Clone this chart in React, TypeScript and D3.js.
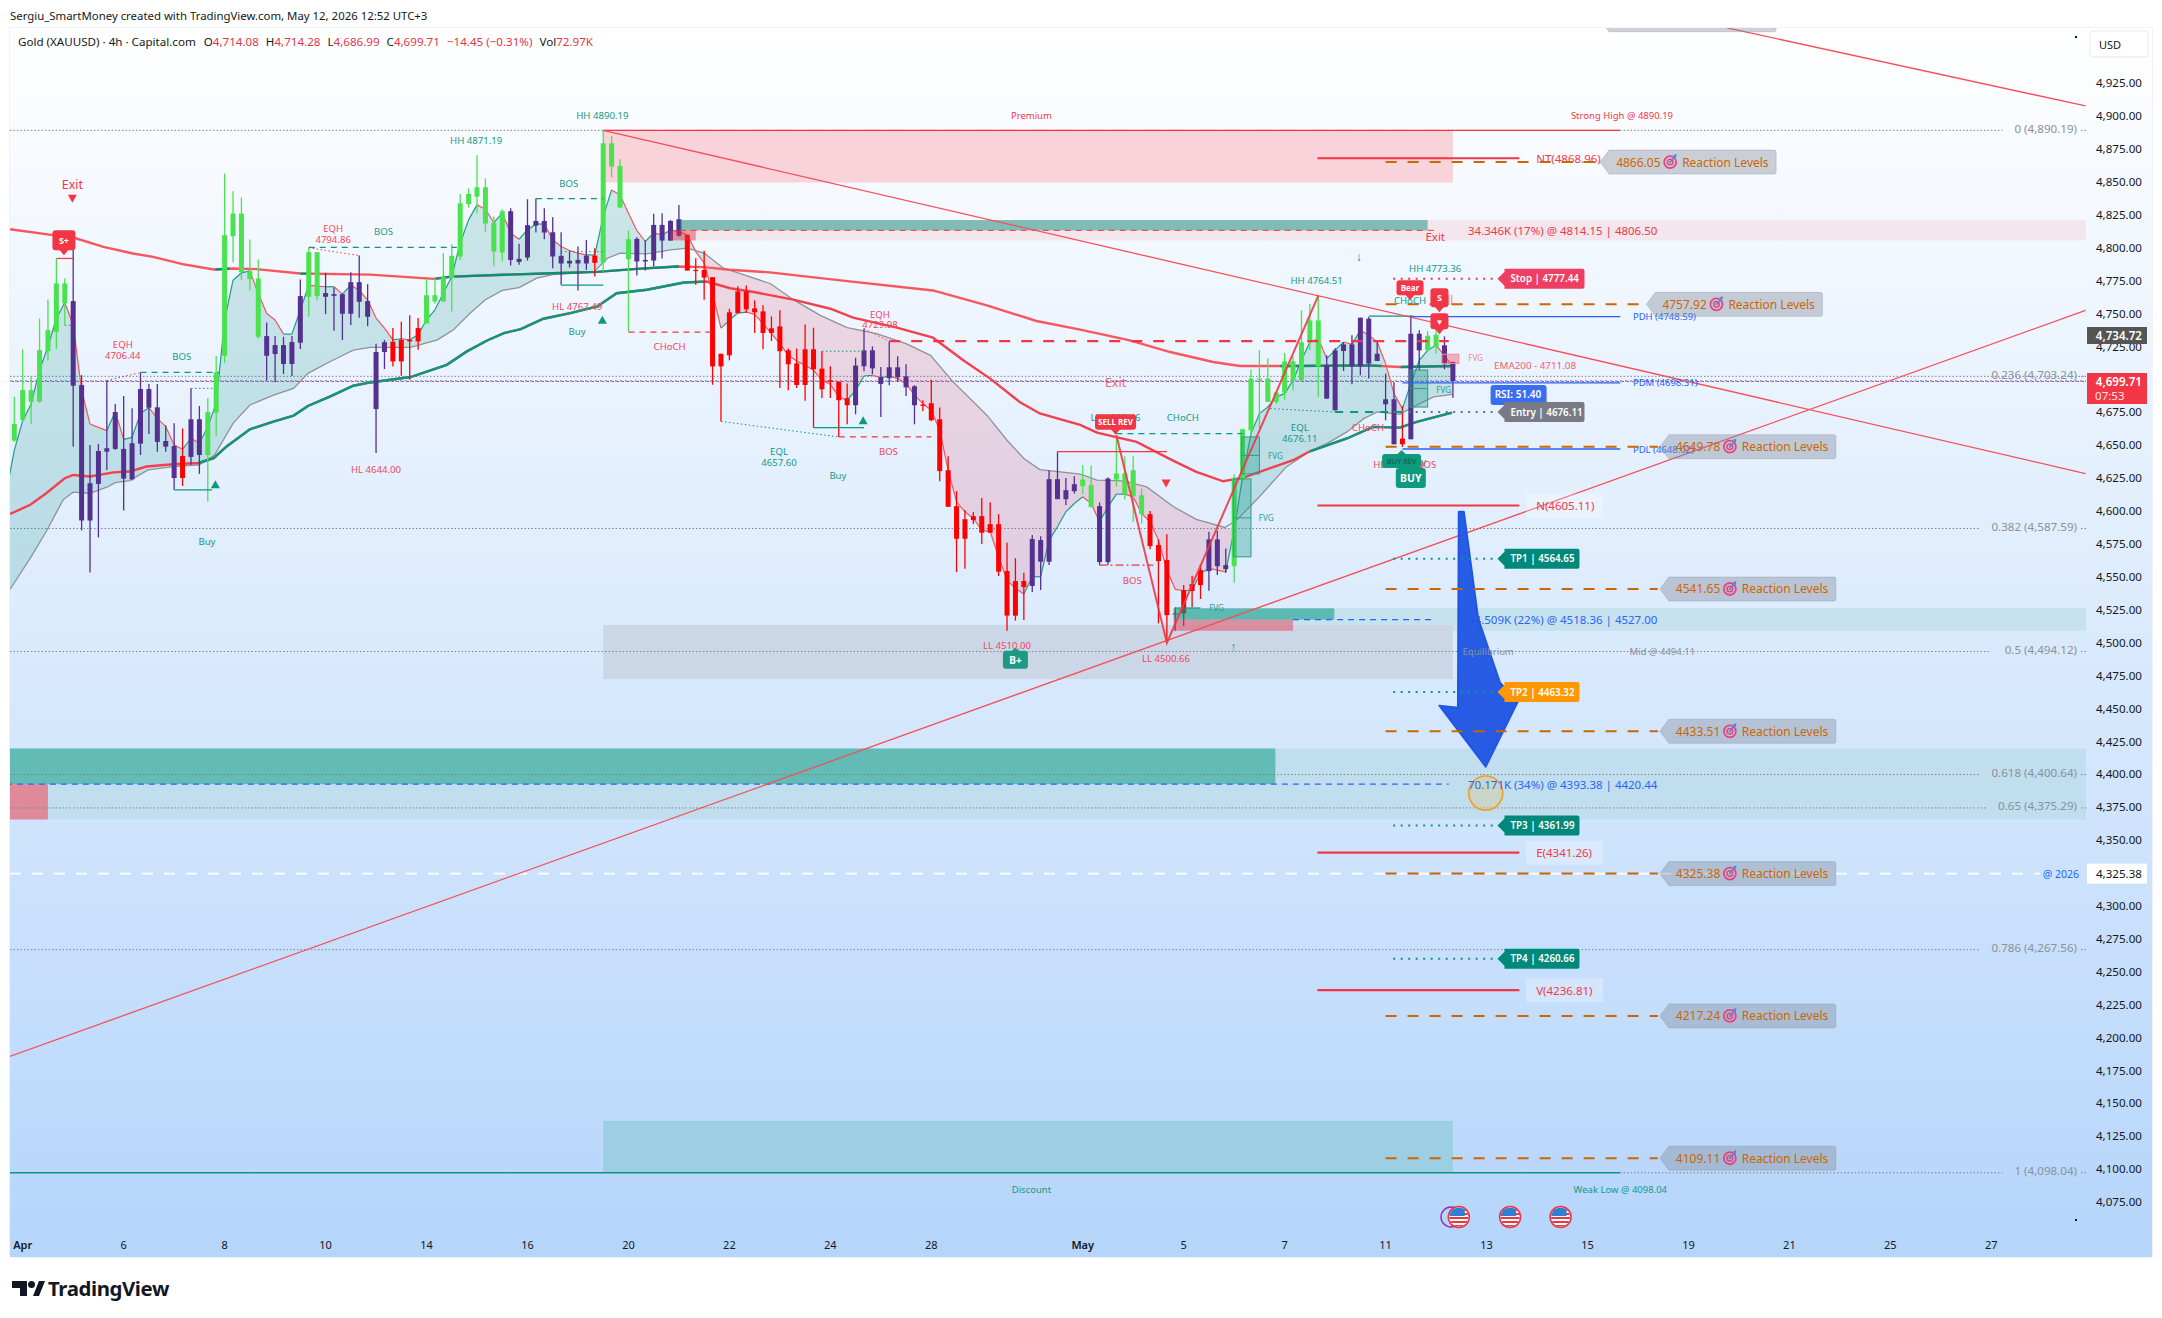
import * as d3 from "d3";

// chart frame, in page pixels
const FONT = "'Noto Sans', sans-serif";
const LEFT = 10;
const RIGHT = 2086;
const OUTER = 2152;
const TOP = 28;
const BOTTOM = 1257;

const RED = "#f23645";
const TEAL = "#089981";
const BLUE = "#2962ff";
const ORANGE = "#cc6600";
const GREY = "#8c9099";

// candles, 4h bars numbered from 1
const highs = [
  4687.8, 4723.7, 4703.5, 4747.2, 4761.7, 4792.8, 4777.6, 4800.4, 4704.2, 4651.1,
  4651.9, 4700, 4682.2, 4688.3, 4679, 4706, 4697.4, 4697.4, 4666, 4667.5,
  4663.7, 4694.1, 4680.7, 4686.5, 4718.6, 4857.3, 4843.9, 4839.1, 4807.2, 4792,
  4744.2, 4733.8, 4733.3, 4733.8, 4776.8, 4800.9, 4797.6, 4781.9, 4770.8, 4766.2,
  4782.4, 4795.1, 4773.3, 4728, 4731, 4739.9, 4744.7, 4749.7, 4747.5, 4777.1,
  4777.8, 4796.8, 4803.6, 4841.8, 4846.1, 4871.4, 4853.7, 4824.6, 4830.2, 4831,
  4803.9, 4837.8, 4838.3, 4831, 4824.1, 4812.7, 4798.8, 4801.9, 4806.9, 4800.6,
  4890.4, 4885.9, 4868.1, 4814, 4808.9, 4806.4, 4826.7, 4827.2, 4822.1, 4833.5,
  4810.7, 4793, 4798.6, 4778.6, 4720.4, 4754.6, 4771.6, 4772.3, 4761, 4757.2,
  4748.8, 4753.4, 4724.3, 4724.3, 4742.7, 4740.2, 4722.3, 4710.9, 4699.2, 4697.7,
  4717.4, 4739.5, 4726, 4710.4, 4729.8, 4718.5, 4712.4, 4696.5, 4685.1, 4700.7,
  4679.5, 4642.6, 4616, 4601.6, 4600.1, 4610.7, 4607.6, 4598.5, 4576.8, 4565.1,
  4554, 4582.6, 4581.8, 4631.9, 4646.1, 4625.9, 4627.4, 4635.7, 4635.4, 4607.4,
  4626.3, 4658.5, 4642.5, 4642.5, 4618, 4601, 4579.3, 4583.3, 4527.7, 4544.6,
  4551.7, 4560.6, 4585.1, 4585.9, 4572.4, 4628.9, 4663.5, 4708.3, 4723, 4716.7,
  4690.9, 4721, 4718.4, 4753.3, 4758.4, 4764.7, 4719.2, 4724.8, 4729.3, 4734.4,
  4747.8, 4748.3, 4729.3, 4705.3, 4698.7, 4680.5, 4749.5, 4738.2, 4737.7, 4747.8, 4733.6, 4714.28,
];
const bodyTops = [
  4667, 4692.8, 4692.8, 4723.2, 4738.4, 4773.8, 4773.8, 4760.4, 4696.6, 4622,
  4646.5, 4648.6, 4676.1, 4648.1, 4652.4, 4693.6, 4693.6, 4679.7, 4654.1, 4650.3,
  4642.7, 4670.6, 4670.6, 4676.1, 4706.2, 4810.5, 4826.9, 4826.9, 4783.2, 4777.6,
  4733.8, 4727, 4727, 4729.3, 4764.2, 4797.6, 4797.6, 4766.5, 4765.7, 4765.7,
  4774.8, 4774.8, 4760.4, 4721.7, 4729.2, 4729.5, 4731, 4731, 4739.9, 4764.9,
  4764.9, 4778.6, 4794.8, 4834.7, 4841.8, 4846.9, 4846.9, 4820.1, 4828.7, 4828.7,
  4792.5, 4818.1, 4821.3, 4821.3, 4812.7, 4794.8, 4791, 4791.7, 4795, 4795,
  4880.3, 4880.3, 4863.1, 4807.4, 4807.7, 4791.7, 4818.3, 4818.3, 4821.3, 4822.6,
  4810.7, 4784.1, 4784.1, 4778.6, 4720.4, 4751.9, 4767.8, 4767.8, 4754.9, 4752.6,
  4739.7, 4741.2, 4723, 4713.1, 4723.8, 4723.8, 4709.1, 4700.2, 4699.2, 4686.6,
  4711.4, 4723, 4723, 4702.5, 4710.1, 4710.1, 4703.3, 4695.7, 4681.8, 4682.8,
  4670.6, 4631.9, 4604.6, 4594.7, 4597, 4597, 4590.9, 4590.9, 4555.3, 4547.7,
  4547.7, 4579.6, 4578.8, 4625.1, 4625.1, 4616.7, 4621.3, 4624.8, 4620.5, 4604.6,
  4625.6, 4629.4, 4629.4, 4631.9, 4612.9, 4598.5, 4575, 4563.6, 4523.1, 4540.8,
  4545.4, 4556, 4579.3, 4579.3, 4559.8, 4625.6, 4663, 4701.5, 4701.5, 4701.5,
  4690.9, 4714.6, 4714.6, 4729.1, 4745.7, 4745.7, 4711.6, 4723, 4727.5, 4727.5,
  4747.8, 4747, 4720.4, 4685.8, 4685.8, 4655.9, 4735.6, 4735.6, 4734.1, 4734.9, 4726.8, 4714.08,
];
const bodyBottoms = [
  4654.4, 4670.1, 4684, 4684, 4722.4, 4737.1, 4758.6, 4696.1, 4593.7, 4593.7,
  4621.5, 4646, 4648.1, 4625.5, 4625, 4652.1, 4679.4, 4653.4, 4649.8, 4626,
  4626, 4642, 4643.5, 4643.5, 4675.6, 4718.9, 4809.7, 4782.4, 4777.1, 4733.3,
  4718.9, 4720.2, 4712.6, 4712.6, 4728.8, 4763.7, 4764.2, 4763.7, 4764.4, 4750.8,
  4750.8, 4759.9, 4748.5, 4678.4, 4721.7, 4714.6, 4714.6, 4729.8, 4729.8, 4743.4,
  4760.1, 4760.1, 4777.8, 4794.3, 4834.2, 4839.8, 4819.3, 4798.1, 4797.3, 4791.7,
  4790.2, 4793.5, 4817.8, 4812.5, 4794.3, 4789, 4789, 4789, 4789, 4789.5,
  4789.7, 4862.6, 4831.5, 4792.2, 4790.5, 4790.5, 4791.2, 4806.4, 4806.4, 4810,
  4783.6, 4783.4, 4778.3, 4710.8, 4710.8, 4719.2, 4751.3, 4754.1, 4751.9, 4736.2,
  4736.2, 4722.3, 4712.4, 4696.7, 4696.7, 4708.6, 4693.4, 4699.2, 4685.1, 4681.3,
  4681.3, 4710.9, 4709.3, 4697.5, 4701.8, 4702.5, 4694.9, 4681.3, 4680.8, 4669.9,
  4631.2, 4604.1, 4579.8, 4579.8, 4594, 4584.4, 4584.4, 4554.8, 4521.4, 4521.4,
  4543.1, 4543.9, 4562.4, 4562.4, 4609.9, 4609.9, 4616, 4619.8, 4603.8, 4562.1,
  4562.1, 4624.8, 4613.7, 4612.2, 4598.5, 4574.2, 4562.8, 4521.8, 4522.6, 4523.1,
  4540.1, 4544.6, 4555.2, 4559, 4556.8, 4559, 4625.1, 4662.3, 4700.7, 4683.8,
  4683.8, 4690.8, 4700.2, 4700.2, 4729.3, 4710.8, 4686.3, 4677.4, 4722.5, 4710.8,
  4710.8, 4712.9, 4714.9, 4682, 4651.6, 4651.6, 4655.4, 4723, 4723, 4725.5, 4712.9, 4699.71,
];
const lows = [
  4653.6, 4670, 4667, 4683.2, 4715.1, 4724, 4742.2, 4649.8, 4586.1, 4554.2,
  4580.8, 4632.1, 4647.3, 4601.3, 4624, 4643.5, 4659.4, 4646, 4646, 4617,
  4620, 4636, 4629.1, 4608.1, 4657.9, 4713.6, 4790, 4776.3, 4768.2, 4731.8,
  4700, 4698.7, 4705, 4703.5, 4724, 4748.5, 4761.1, 4750.5, 4737.9, 4730.8,
  4742.2, 4747.7, 4741.4, 4645, 4708.8, 4710.8, 4703.7, 4700.7, 4723.4, 4743.4,
  4758.3, 4760.1, 4752.5, 4791.7, 4831.5, 4827.2, 4813.2, 4786.7, 4790.5, 4787.4,
  4788, 4791.2, 4812.5, 4807.4, 4785.4, 4772.8, 4785.9, 4768.5, 4784.1, 4779.1,
  4782.9, 4854.5, 4831, 4737.3, 4779.8, 4783.6, 4786.7, 4792.8, 4806.4, 4809.4,
  4783.6, 4772.8, 4761.4, 4696.9, 4669, 4715.4, 4751.3, 4751.3, 4736.2, 4723.8,
  4730.1, 4694.4, 4692.6, 4694.4, 4684.6, 4664.3, 4686.8, 4686.8, 4657.2, 4666.8,
  4674.4, 4707.1, 4704.8, 4672.4, 4696.5, 4699, 4688.3, 4666.8, 4676.7, 4669.1,
  4623.6, 4604.1, 4554.5, 4557, 4590.9, 4575.8, 4584.4, 4551.5, 4510, 4517.6,
  4518.1, 4539.3, 4540.8, 4559.8, 4609.9, 4605.4, 4614.2, 4613.7, 4603.8, 4559.8,
  4559.8, 4619.2, 4609.6, 4592.7, 4591.4, 4571.9, 4515.5, 4500.8, 4510, 4513.5,
  4527.7, 4534, 4540.3, 4552.2, 4554, 4546.4, 4625.1, 4657.2, 4663.5, 4683.8,
  4682.5, 4685.5, 4692.6, 4700.2, 4723, 4687.6, 4686.3, 4677.4, 4707.3, 4697.2,
  4704, 4701.5, 4714.9, 4669.8, 4651.6, 4649.6, 4655.4, 4707.8, 4723, 4720.4, 4708.6, 4686.99,
];
const candleKinds =
  "gggggggppp" + "pppppppppp" + "rppggggggg" + "pppppggppp" + "ppppprrrrg" + "gggggggggp" +
  "pppppppppr" + "ggggpppppp" + "rrrrrrrrrr" + "rrrrrrrrrr" + "pppppppprr" + "rrrrrrrrrr" +
  "rppppppggp" + "pggggrrrrr" + "rrpppggggg" + "ggggggpppp" + "ppppprppgg" + "pp";
const kindColors: Record<string, string> = { g: "#4be24f", p: "#54308f", r: "#ff0000" };

// thin band line, one value per bar from bar 0
const fastBand = [
  4614, 4647, 4669.6, 4682.2, 4708, 4725.7, 4747.2, 4759.4, 4742.2, 4692.8, 4667,
  4664.5, 4662, 4676.4, 4655.4, 4656.9, 4675.1, 4679.4, 4671.3, 4665, 4651.1,
  4647.8, 4656.2, 4652.4, 4665, 4682.7, 4746, 4776.3, 4781.9, 4783.4, 4766.2,
  4751, 4746, 4735.3, 4735.3, 4753.6, 4772.5, 4771.8, 4771.3, 4771.3, 4765.7,
  4772.5, 4768.7, 4761.2, 4747.5, 4739.9, 4731, 4731.8, 4731, 4734.8, 4746.2,
  4753.8, 4766.4, 4779.1, 4804.4, 4822.1, 4833.5, 4830.2, 4820.1, 4827.2, 4812,
  4807.4, 4814.5, 4819, 4819, 4806.9, 4801.9, 4798.8, 4796.8, 4795.5, 4795.5,
  4824.6, 4844.9, 4841.1, 4827.2, 4814, 4805.7, 4812, 4810.7, 4814.5, 4813.2,
  4810.7, 4798, 4789.2, 4766.4, 4739.9, 4745.8, 4751.3, 4752.1, 4750.3, 4743.3,
  4735.7, 4728.1, 4719.2, 4714.9, 4711.6, 4707.8, 4700.2, 4697.2, 4687.6, 4685.1,
  4692.6, 4703.5, 4704, 4702.3, 4703.3, 4701.5, 4697.7, 4688.9, 4682.5, 4677.5,
  4662.3, 4631.9, 4607.9, 4600.3, 4595.2, 4586.4, 4585.1, 4566.2, 4548.4, 4542.1,
  4537.8, 4551, 4551, 4578.8, 4588.9, 4600.3, 4606.6, 4611.7, 4606.6, 4592.7,
  4604, 4613.7, 4613.7, 4611.7, 4599, 4592.7, 4578.8, 4556, 4541.3, 4540.3,
  4540.8, 4553.5, 4557.3, 4556, 4554.7, 4586.4, 4626.8, 4659.7, 4674.9, 4680,
  4687.6, 4690.1, 4700.2, 4715.4, 4729.3, 4731.8, 4716.7, 4723, 4729.3, 4727.5,
  4738.2, 4734.4, 4729.3, 4712.9, 4690.1, 4678.7, 4697.7, 4715.4, 4723, 4726.8,
  4719.2, 4710.3,
];

// grey band line, [bar, price]
const slowBand: [number, number][] = [
  [0.5, 4541.5], [2.9, 4565.1], [4.8, 4585.3], [6.8, 4609.4], [8, 4615.2], [10, 4614.4], [12, 4619], [13, 4622.5],
  [14.7, 4624], [16.9, 4632.1], [19.9, 4634.7], [23, 4635.9], [24.8, 4643.5], [27, 4667.5], [29, 4681.5], [31.8, 4689],
  [34.2, 4694.1], [35.9, 4705.5], [38.5, 4714.3], [41.3, 4723.2], [43.3, 4725.2], [48.1, 4725.2], [51.3, 4731],
  [53.2, 4738.6], [55.2, 4751.3], [57, 4761.4], [59, 4768.5], [61, 4770.7], [63.1, 4777.8], [65, 4780.6], [69.9, 4782.6],
  [71.5, 4793], [73, 4796.8], [76.2, 4796.3], [79, 4799.3], [81, 4800.6], [83, 4796.8], [85.3, 4785.4], [87.3, 4781.2],
  [90.9, 4773.6], [93.6, 4761.5], [96.8, 4749.6], [100, 4740.2], [103.5, 4735.7], [107, 4728.1], [109.9, 4719.2],
  [112.6, 4699], [116.6, 4673.7], [119, 4654.7], [121, 4640.8], [122.9, 4632.4], [127.7, 4629], [129.7, 4624.3],
  [132.8, 4623.8], [135.6, 4619.2], [138.8, 4604.1], [141.5, 4594.5], [144.9, 4588.4], [146.3, 4594], [149, 4611.7],
  [152.2, 4634.4], [155, 4646.3], [157, 4652.1], [159.4, 4661], [161.4, 4671.1], [163, 4676.2], [165.7, 4674.4],
  [167.3, 4680], [169.7, 4687.6], [171.9, 4689.6],
];

const ema200: [number, number][] = [
  [0.5, 4815], [5.6, 4810.5], [8, 4808.7], [11.6, 4801.6], [15.1, 4796.6], [17.5, 4794], [21, 4788.5], [24.7, 4784.4],
  [27, 4785.2], [29.8, 4784.7], [35, 4781.4], [43.3, 4780.5], [50.9, 4777.3], [53, 4779], [59.2, 4780.4], [65, 4781.6],
  [70.3, 4782.6], [75, 4784.9], [79.8, 4786.7], [83, 4786.2], [86, 4784.2], [90.8, 4782.2], [100, 4775.6], [110.2, 4768.5],
  [116.6, 4757.2], [122.5, 4745.3], [127.7, 4738.7], [133.6, 4730.6], [138.4, 4721.7], [143.5, 4714.1], [146.7, 4711.1],
  [153, 4711.1], [162, 4711.6], [165.7, 4710.3], [172, 4711.1],
];
const ema200TealSpans = [[24.9, 26.6], [35, 35.8], [51, 80], [151.5, 163.5], [165.8, 172]];

const emaSlow: [number, number][] = [
  [0.5, 4598.7], [2.9, 4605.6], [4.8, 4614.4], [7, 4625.8], [8, 4628.3], [10, 4627.1], [12.8, 4630.3], [14.7, 4630.9],
  [16.7, 4634.7], [19.9, 4636.4], [22.9, 4637.4], [24.7, 4641], [26.2, 4649.8], [29, 4663], [31.8, 4668.8], [34.2, 4673.4],
  [35.9, 4680.7], [38.5, 4687.8], [41.3, 4696.1], [43.3, 4698.6], [48.1, 4702.7], [52.4, 4712], [54.8, 4722.2], [57.2, 4730.5],
  [59.2, 4736.1], [61.2, 4739.1], [63.9, 4747], [67.1, 4751.3], [70.3, 4756.3], [72.6, 4766.4], [76.2, 4769], [80.6, 4774.5],
  [83.3, 4775.3], [86.1, 4770.2], [88.9, 4767.3], [93.6, 4761.5], [98, 4754.6], [100.7, 4747.8], [105.9, 4740.2], [110.2, 4732.6],
  [113.8, 4715.4], [117, 4701.5], [120.5, 4683.8], [122.9, 4675], [127.7, 4666.4], [129.7, 4660.5], [134.4, 4653.4],
  [138.8, 4639], [141.5, 4630.6], [144.7, 4623.5], [147.1, 4626.3], [153, 4639.5], [155, 4646.3], [159.4, 4656], [162.5, 4664.8],
  [165.7, 4664.3], [167.7, 4668.6], [171.9, 4675.7],
];
const emaSlowTealSpans = [[22.9, 83], [155, 172]];

const priceTicks = d3.range(4075, 4926, 25);
const timeLabels = ["Apr", "6", "8", "10", "14", "16", "20", "22", "24", "28", "May", "5", "7", "11", "13", "15", "19", "21", "25", "27"];
const timeBars = [2, 14, 26, 38, 50, 62, 74, 86, 98, 110, 128, 140, 152, 164, 176, 188, 200, 212, 224, 236];

const fibRatios = ["0", "0.236", "0.382", "0.5", "0.618", "0.65", "0.786", "1"];
const fibPrices = [4890.19, 4703.24, 4587.59, 4494.12, 4400.64, 4375.29, 4267.56, 4098.04];

const reactionLevels = [4974.18, 4866.05, 4757.92, 4649.78, 4541.65, 4433.51, 4325.38, 4217.24, 4109.11];
const reactionTipBars = [189.5, 189.5, 195, 196.6, 196.6, 196.6, 196.6, 196.6, 196.6];

const harmonicNames = ["NT", "N", "E", "V"];
const harmonicPrices = [4868.96, 4605.11, 4341.26, 4236.81];

const targetNames = ["Stop ", "Entry", "TP1", "TP2", "TP3", "TP4"];
const targetPrices = [4777.44, 4676.11, 4564.65, 4463.32, 4361.99, 4260.66];
const targetColors = ["#ee3f62", "#787b86", "#00897b", "#ff9800", "#00897b", "#00897b"];

const dayLevelNames = ["PDH", "PDM", "PDL"];
const dayLevelPrices = [4748.59, 4698.31, 4648.02];

const tealLabels: [string, number, number][] = [
  ["BOS", 20.9, 4717], ["Buy", 23.9, 4576.4], ["BOS", 44.9, 4811.8], ["HH 4871.19", 55.9, 4881.5], ["HH 4890.19", 70.9, 4900.6],
  ["BOS", 66.9, 4848.2], ["Buy", 67.9, 4736.4], ["EQL", 91.9, 4644.9], ["4657.60", 91.9, 4636.3], ["Buy", 98.9, 4626.4],
  ["CHoCH", 139.9, 4670.4], ["LH 4658.46", 131.9, 4670.4], ["EQL", 153.8, 4663.4], ["4676.11", 153.8, 4655], ["HH 4764.51", 155.8, 4774.5],
  ["HH 4773.36", 169.9, 4783.6], ["CHoCH", 166.9, 4759.3], ["Buy", 167.8, 4637],
];
const redLabels: [string, number, number][] = [
  ["EQH", 13.9, 4725.9], ["4706.44", 13.9, 4717.6], ["EQH", 38.9, 4814.1], ["4794.86", 38.9, 4805.7], ["HL 4644.00", 44, 4631.3],
  ["HL 4767.49", 67.9, 4755], ["CHoCH", 78.9, 4724.6], ["EQH", 103.9, 4749.3], ["4729.98", 103.9, 4741.1], ["BOS", 104.9, 4644.9],
  ["BOS", 133.9, 4547.1], ["LL 4510.00", 119, 4497.6], ["LL 4500.66", 137.9, 4487.7], ["CHoCH", 161.9, 4663.4], ["BOS", 168.9, 4635.1],
  ["HL 4652.10", 165.5, 4635.1],
];
const fvgLabelBars = [150.9, 149.8, 143.9, 170.9];
const fvgLabelPrices = [4641.6, 4594.4, 4526.4, 4692.3];

// [bar from, bar to, top price, bottom price]
const fvgBoxes = [
  [146.9, 149, 4657.2, 4629.1],
  [145.9, 148, 4625.3, 4566.1],
  [166.9, 169, 4708, 4679.9],
];

// swing line through LH, LL and HH
const swingLine: [number, number][] = [[132, 4658.5], [138, 4500.66], [156, 4764.51]];
const trendLines: [number, number][][] = [
  [[71, 4890.19], [247.2, 4629.4]],
  [[0.3, 4186.1], [247.2, 4753.4]],
  [[204.6, 4968], [247.2, 4908.7]],
];
const bigArrow: [number, number][] = [
  [172.7, 4600.3], [173.3, 4600.3], [175, 4519.1], [177.6, 4470.4], [179.7, 4456], [175.9, 4406.7], [170.4, 4453], [172.6, 4451.5],
];

// thin structure lines: bar from, bar to, price, style
const structure: [number, number, number, string, string, number][] = [
  [16, 25.4, 4706.2, TEAL, "6 5", 1.2],
  [22, 24.7, 4694.1, TEAL, "1.5 2.5", 1],
  [6, 8, 4792.8, RED, "", 1.2],
  [7, 8, 4742, RED, "1.5 2.5", 1],
  [20, 24.5, 4617, TEAL, "", 1.2],
  [36, 53.6, 4801.2, TEAL, "6 5", 1.2],
  [63, 71, 4838.3, TEAL, "6 5", 1.2],
  [66, 71, 4798, TEAL, "1.5 2.5", 1],
  [66, 71, 4772.5, TEAL, "", 1.2],
  [74, 84, 4736.8, RED, "6 5", 1.2],
  [97, 102, 4722.3, TEAL, "1.5 2.5", 1],
  [96, 102, 4664.3, TEAL, "", 1.2],
  [99, 110, 4657.2, RED, "6 5", 1.2],
  [125, 138, 4646, RED, "", 1.2],
  [132, 147, 4659.7, TEAL, "6 5", 1.2],
  [130, 136.4, 4559.8, RED, "8 3 2 3", 1.2],
  [139, 142, 4527.2, TEAL, "", 1.2],
  [158, 167, 4676.2, TEAL, "8 7", 2],
  [162, 167.3, 4749, TEAL, "", 1.2],
  [105, 171.5, 4730, RED, "11 11", 2.4],
];
// sloping dotted notes: bar, price, bar, price, colour
const slanted: [number, number, number, number, string][] = [
  [12, 4700, 16, 4706.2, RED],
  [36, 4800.9, 42, 4795, RED],
  [85, 4669, 99, 4657.2, TEAL],
  [102, 4739.5, 105, 4729.8, RED],
  [150.3, 4678.7, 158, 4676.2, TEAL],
];
const buyMarkerBars = [24.9, 70.9, 101.9];
const buyMarkerPrices = [4620, 4745, 4668.6];
const sellMarkerBars = [7.9, 137.9];
const sellMarkerPrices = [4837, 4620.5];
const newsBars = [172.7, 178.8, 184.8];

const x = d3.scaleLinear().domain([1, 172]).range([14.3, 1452.9]);
const y = d3.scaleLinear().domain([4890.19, 4098.04]).range([130.3, 1172.8]);
// notes sit a little above their level
const noteY = (p: number) => y(p) - 1.6;
const lineXY = d3
  .line<[number, number]>()
  .x((d) => x(d[0]))
  .y((d) => y(d[1]));
const fmt = d3.format(",.2f");
const candleWidth = 5;

const bandPoints = fastBand.map((p, i) => [i, p] as [number, number]);

function cloud(from: number, to: number) {
  const upper = bandPoints.filter((d) => d[0] >= from && d[0] <= to);
  const lower = slowBand.filter((d) => d[0] >= from && d[0] <= to).reverse();
  return lineXY([...upper, ...lower]) + "Z";
}

function Label(p: any) {
  const { text, px, py, color = "#131722", size = 10, anchor = "middle", weight = 400, opacity } = p;
  return (
    <text x={px} y={py} fill={color} fontSize={size} textAnchor={anchor} fontWeight={weight} opacity={opacity} dominantBaseline="central">
      {text}
    </text>
  );
}

function Level(p: any) {
  const { from, to, price, color, dash = "", width = 1 } = p;
  return <line x1={x(from)} x2={x(to)} y1={y(price)} y2={y(price)} stroke={color} strokeDasharray={dash} strokeWidth={width} />;
}

function Zone(p: any) {
  const { from, to, top, bottom, fill, stroke, opacity = 1 } = p;
  return <rect x={x(from)} width={x(to) - x(from)} y={y(top)} height={y(bottom) - y(top)} fill={fill} fillOpacity={opacity} stroke={stroke} />;
}

// rounded note with a small pointer, tip at px/py
function Badge(p: any) {
  const { px, py, w, h, text, fill, color = "#fff", size = 9, up = false, weight = 700, tip = 5 } = p;
  const top = up ? py + tip : py - tip - h;
  const pointer = up
    ? `M${px - 5},${py + tip + 1}L${px},${py}L${px + 5},${py + tip + 1}Z`
    : `M${px - 5},${py - tip - 1}L${px},${py}L${px + 5},${py - tip - 1}Z`;
  return (
    <g>
      <rect x={px - w / 2} y={top} width={w} height={h} rx={3} fill={fill} />
      {tip > 0 && <path d={pointer} fill={fill} />}
      <Label text={text} px={px} py={top + h / 2} color={color} size={size} weight={weight} />
    </g>
  );
}

function Target() {
  return (
    <g>
      <circle r={6} fill="none" stroke="#e8437f" strokeWidth={1.8} />
      <circle r={2.8} fill="none" stroke="#e8437f" strokeWidth={1.5} />
      <circle r={1} fill="#e8437f" />
      <path d="M0,0L5,-6" stroke="#3f8fe0" strokeWidth={1.5} />
      <path d="M3,-7L6.5,-8L6,-4Z" fill="#3f8fe0" />
    </g>
  );
}

function ReactionTag({ price, tipBar }: { price: number; tipBar: number }) {
  const cy = y(price);
  const tip = x(tipBar);
  const left = tip + 9;
  const right = left + 167;
  return (
    <g>
      <line x1={x(164)} x2={tip - 2} y1={cy} y2={cy} stroke={ORANGE} strokeWidth={2} strokeDasharray="11 11" />
      <path
        d={`M${tip},${cy}L${left},${cy - 12}H${right - 2}q2,0 2,2V${cy + 10}q0,2 -2,2H${left}Z`}
        fill="#7d8796"
        fillOpacity={0.38}
        stroke="#7d8796"
        strokeOpacity={0.3}
      />
      <Label text={price.toFixed(2)} px={left + 7} py={cy} color={ORANGE} size={12} anchor="start" />
      <g transform={`translate(${left + 61},${cy})`}>
        <Target />
      </g>
      <Label text="Reaction Levels" px={left + 73} py={cy} color={ORANGE} size={12} anchor="start" />
    </g>
  );
}

function TargetTag({ name, price, color }: { name: string; price: number; color: string }) {
  const cy = y(price);
  const dotted = name === "Stop " ? RED : name === "Entry" ? "#6b6f7a" : TEAL;
  const tip = x(177.3);
  const w = name.startsWith("TP") ? 75 : 80;
  return (
    <g>
      <line x1={x(164.9)} x2={tip} y1={cy} y2={cy} stroke={dotted} strokeWidth={2} strokeDasharray="2 5.5" />
      <path d={`M${tip},${cy}L${tip + 7},${cy - 7}V${cy - 10}h${w - 2}q2,0 2,2v16q0,2 -2,2H${tip + 7}V${cy + 7}Z`} fill={color} />
      <Label text={`${name} | ${price.toFixed(2)}`} px={tip + 13} py={cy} color="#fff" size={9.8} anchor="start" weight={600} />
    </g>
  );
}

function NewsFlag({ bar, clipId }: { bar: number; clipId: string }) {
  const cx = x(bar);
  const cy = 1217;
  const stripes = [-8, -4, 0, 4, 8];
  return (
    <g>
      <clipPath id={clipId}>
        <circle cx={cx} cy={cy} r={9.5} />
      </clipPath>
      <circle cx={cx} cy={cy} r={10.5} fill="#fff" stroke="#e53946" strokeWidth={1.6} />
      <g clipPath={`url(#${clipId})`}>
        {stripes.map((s) => (
          <rect key={s} x={cx - 11} y={cy + s} width={22} height={2} fill="#e53946" />
        ))}
        <rect x={cx - 11} y={cy - 11} width={17} height={10} fill="#2f7fd6" />
      </g>
    </g>
  );
}

export default function App() {
  const fibWidth = (s: string) => s.length * 5.7;
  return (
    <svg
      width={2162}
      height={1318}
      style={{ position: "absolute", left: 0, top: 0, background: "#fff", fontFamily: FONT }}
    >
      <defs>
        <linearGradient id="chartBg" x1="0" y1="0" x2="0" y2="1">
          <stop offset="0" stopColor="#ffffff" />
          <stop offset="1" stopColor="#b5d5fb" />
        </linearGradient>
        <clipPath id="plot">
          <rect x={LEFT} y={TOP} width={RIGHT - LEFT} height={BOTTOM - TOP} />
        </clipPath>
        <clipPath id="emaLongTeal">
          {ema200TealSpans.map((s, i) => (
            <rect key={i} x={x(s[0])} width={x(s[1]) - x(s[0])} y={TOP} height={BOTTOM - TOP} />
          ))}
        </clipPath>
        <clipPath id="emaSlowTeal">
          {emaSlowTealSpans.map((s, i) => (
            <rect key={i} x={x(s[0])} width={x(s[1]) - x(s[0])} y={TOP} height={BOTTOM - TOP} />
          ))}
        </clipPath>
      </defs>

      <Label text="Sergiu_SmartMoney created with TradingView.com, May 12, 2026 12:52 UTC+3" px={10} py={15} size={11.4} anchor="start" />
      <rect x={LEFT - 1} y={TOP - 1} width={OUTER - LEFT + 2} height={BOTTOM - TOP + 2} fill="#f0f3fa" />
      <rect x={LEFT} y={TOP} width={OUTER - LEFT} height={BOTTOM - TOP} fill="url(#chartBg)" />

      <g clipPath="url(#plot)">
        {/* bands behind everything */}
        <Zone from={80.1} to={247.3} top={4822} bottom={4806.5} fill="#f3e6ed" />
        <Zone from={138.8} to={247.3} top={4527} bottom={4509.9} fill="#c5e2ee" />
        <Zone from={0} to={247.3} top={4420.44} bottom={4366.5} fill="#c0deee" />
        <Zone from={71} to={172} top={4890.19} bottom={4850.5} fill="#f8d3d9" />
        <Zone from={71} to={172} top={4514.3} bottom={4473.2} fill="#cbd7e6" />
        <Zone from={71} to={172} top={4137.5} bottom={4098.04} fill="#9ccfe3" />
        <Zone from={0} to={150.9} top={4420.44} bottom={4393.38} fill="#62bbb4" />
        <Zone from={0} to={5} top={4393.38} bottom={4366.5} fill="#df8a9a" />

        {/* fibonacci levels */}
        {fibPrices.map((p, i) => {
          const label = `${fibRatios[i]} (${fmt(p)})`;
          const start = i === 7 ? 1620 : LEFT;
          const end = i === 1 ? RIGHT : 2077 - fibWidth(label) - 6;
          return (
            <g key={p}>
              <line x1={start} x2={end} y1={y(p)} y2={y(p)} stroke="#7f848e" strokeDasharray="1.5 2" />
              <line x1={2081} x2={RIGHT} y1={y(p)} y2={y(p)} stroke="#7f848e" strokeDasharray="1.5 2" />
              <Label text={label} px={2077} py={y(p) - 2} color={GREY} size={11.6} anchor="end" />
            </g>
          );
        })}
        <line x1={LEFT} x2={1620} y1={y(4098.04)} y2={y(4098.04)} stroke={TEAL} strokeWidth={1.4} />
        <line x1={x(71)} x2={1620} y1={y(4890.19)} y2={y(4890.19)} stroke={RED} strokeWidth={1.3} />

        {/* current price and 2026 lines */}
        <line x1={LEFT} x2={RIGHT} y1={y(4699.71)} y2={y(4699.71)} stroke={BLUE} strokeDasharray="2 3" />
        <line x1={LEFT + 2} x2={RIGHT} y1={y(4699.71) + 0.5} y2={y(4699.71) + 0.5} stroke={RED} strokeDasharray="2 3" />
        <line x1={LEFT} x2={2040} y1={y(4325.38)} y2={y(4325.38)} stroke="#fff" strokeWidth={1.6} strokeDasharray="11 11" />

        {/* cloud between the two band lines */}
        <path d={cloud(0, 83)} fill="#00897b" fillOpacity={0.17} />
        <path d={cloud(83, 146)} fill="#e13c5a" fillOpacity={0.17} />
        <path d={cloud(146, 172)} fill="#00897b" fillOpacity={0.17} />
        <path d={lineXY(slowBand)!} fill="none" stroke="#8f9298" strokeWidth={1.3} />
        {d3.pairs(bandPoints).map(([a, b]) => (
          <line
            key={a[0]}
            x1={x(a[0])}
            x2={x(b[0])}
            y1={y(a[1])}
            y2={y(b[1])}
            stroke={b[1] >= a[1] ? "#1f9c8c" : "#f4555f"}
            strokeWidth={1.2}
          />
        ))}

        {/* moving averages */}
        <path d={lineXY(ema200)!} fill="none" stroke="#f9565f" strokeWidth={2.4} />
        <path d={lineXY(ema200)!} fill="none" stroke="#0b8f7a" strokeWidth={2.4} clipPath="url(#emaLongTeal)" />
        <path d={lineXY(emaSlow)!} fill="none" stroke="#f2404d" strokeWidth={2.4} />
        <path d={lineXY(emaSlow)!} fill="none" stroke={TEAL} strokeWidth={2.4} clipPath="url(#emaSlowTeal)" />

        {/* candles */}
        {highs.map((h, i) => {
          const bar = i + 1;
          const color = kindColors[candleKinds[i]];
          return (
            <g key={bar}>
              <line x1={x(bar)} x2={x(bar)} y1={y(h)} y2={y(lows[i])} stroke={color} strokeWidth={1.3} />
              <rect
                x={x(bar) - candleWidth / 2}
                width={candleWidth}
                y={y(bodyTops[i])}
                height={Math.max(1.2, y(bodyBottoms[i]) - y(bodyTops[i]))}
                fill={color}
              />
            </g>
          );
        })}

        {/* order block zones over the candles */}
        <Zone from={80.1} to={169} top={4822} bottom={4814.15} fill="#0f8f7e" opacity={0.5} />
        <Zone from={79} to={82} top={4814.15} bottom={4806.5} fill="#e63246" opacity={0.45} />
        <Zone from={138.8} to={157.9} top={4527} bottom={4518.36} fill="#089981" opacity={0.55} />
        <Zone from={138.8} to={153} top={4518.36} bottom={4509.9} fill="#e63246" opacity={0.45} />
        <Level from={80.1} to={170} price={4814.15} color={RED} dash="6 5" />
        <Level from={153} to={170} price={4518.36} color={BLUE} dash="6 5" width={1.2} />
        <Level from={0} to={171.5} price={4393.38} color={BLUE} dash="6 5" width={1.2} />

        {fvgBoxes.map((b, i) => (
          <g key={i}>
            <Zone from={b[0]} to={b[1]} top={b[2]} bottom={b[3]} fill="#2a9d8f" stroke="#2a9d8f" opacity={0.38} />
            <Level from={b[0]} to={b[1]} price={(b[2] + b[3]) / 2} color="#2a9d8f" />
          </g>
        ))}
        <Zone from={170.7} to={172.7} top={4720} bottom={4713} fill="#f23645" stroke="#f28a96" opacity={0.35} />

        {/* structure lines */}
        {structure.map((s, i) => (
          <Level key={i} from={s[0]} to={s[1]} price={s[2]} color={s[3]} dash={s[4]} width={s[5]} />
        ))}
        {slanted.map((s, i) => (
          <line key={i} x1={x(s[0])} x2={x(s[2])} y1={y(s[1])} y2={y(s[3])} stroke={s[4]} strokeDasharray="1.5 2.5" />
        ))}

        {/* trend lines and swing */}
        {trendLines.map((t, i) => (
          <path key={i} d={lineXY(t)!} fill="none" stroke="#f4505c" strokeWidth={1.3} />
        ))}
        <path d={lineXY(swingLine)!} fill="none" stroke={RED} strokeWidth={2} strokeOpacity={0.9} />

        {/* order block volume notes, the arrow runs over the lower one */}
        <Label text="34.346K (17%) @ 4814.15 | 4806.50" px={1468} py={y(4814.15)} color={RED} size={11.5} anchor="start" />
        <Label text="44.509K (22%) @ 4518.36 | 4527.00" px={1468} py={y(4518.36)} color={BLUE} size={11.5} anchor="start" />

        {/* hand drawn arrow and ring */}
        <path d={lineXY(bigArrow) + "Z"} fill="#1f55e3" fillOpacity={0.96} stroke="#1f55e3" strokeLinejoin="round" strokeWidth={2} />
        <circle cx={x(175.9)} cy={y(4386.6)} r={17} fill="#d8c88a" fillOpacity={0.4} stroke="#f0a020" strokeWidth={1.6} />
        <Label text="70.171K (34%) @ 4393.38 | 4420.44" px={1468} py={y(4393.38)} color={BLUE} size={11.5} anchor="start" />

        {/* day levels */}
        {dayLevelPrices.map((p, i) => (
          <g key={p}>
            <Level from={i === 0 ? 167 : 166} to={191.9} price={p} color={BLUE} width={1.3} />
            <Label text={`${dayLevelNames[i]} (${p})`} px={x(193.4)} py={y(p)} color={BLUE} size={9.5} anchor="start" />
          </g>
        ))}
        <Label text="Equilibrium" px={x(176.2)} py={y(4494.1)} color={GREY} size={9.5} />
        <Label text="Mid @ 4494.11" px={x(196.9)} py={y(4494.1)} color={GREY} size={9.5} />

        {/* harmonic levels */}
        {harmonicPrices.map((p, i) => (
          <g key={p}>
            <Level from={155.9} to={179.9} price={p} color={RED} width={2.2} />
            <rect x={x(180.7)} y={y(p) - 12} width={77} height={24} fill="#fff" fillOpacity={0.25} />
            <Label text={`${harmonicNames[i]}(${p})`} px={x(181.9)} py={y(p)} color={RED} size={11.5} anchor="start" />
          </g>
        ))}

        {reactionLevels.map((p, i) => (
          <ReactionTag key={p} price={p} tipBar={reactionTipBars[i]} />
        ))}

        {/* structure text */}
        {tealLabels.map((l, i) => (
          <Label key={i} text={l[0]} px={x(l[1])} py={noteY(l[2])} color="#139a87" size={9.6} />
        ))}
        {redLabels.map((l, i) => (
          <Label key={i} text={l[0]} px={x(l[1])} py={noteY(l[2])} color="#f0485c" size={9.6} />
        ))}
        {fvgLabelBars.map((b, i) => (
          <Label key={i} text="FVG" px={x(b)} py={noteY(fvgLabelPrices[i])} color="#2a9d8f" size={8} />
        ))}
        <Label text="FVG" px={x(174.7)} py={noteY(4716)} color="#ee8a95" size={8} />
        <Label text="Premium" px={x(121.9)} py={noteY(4900)} color={RED} size={9.5} />
        <Label text="Strong High @ 4890.19" px={x(192.1)} py={noteY(4900.6)} color={RED} size={9.5} />
        <Label text="Discount" px={x(121.9)} py={noteY(4083.9)} color="#139a87" size={9.5} />
        <Label text="Weak Low @ 4098.04" px={x(191.9)} py={noteY(4083.9)} color="#139a87" size={9.5} />
        <Label text="Exit" px={x(7.9)} py={noteY(4847.9)} color={RED} size={12.5} />
        <Label text="Exit" px={x(131.9)} py={noteY(4697.6)} color={RED} size={12.5} opacity={0.75} />
        <Label text="Exit" px={x(169.9)} py={noteY(4808.4)} color={RED} size={11.5} />
        <Label text="Sell" px={x(170.9)} py={noteY(4760)} color={RED} size={12} opacity={0.55} />
        <Label text="↓" px={x(160.8)} py={noteY(4792.8)} color="#139a87" size={12} />
        <Label text="↑" px={x(145.9)} py={noteY(4496.4)} color="#139a87" size={12} />
        <Label text="EMA200 - 4711.08" px={x(176.9)} py={y(4711.08) - 1} color="#f4606c" size={9.8} anchor="start" />

        {buyMarkerBars.map((b, i) => (
          <path key={b} d={`M${x(b) - 4.5},${noteY(buyMarkerPrices[i]) + 4}h9l-4.5,-8Z`} fill={TEAL} />
        ))}
        {sellMarkerBars.map((b, i) => (
          <path key={b} d={`M${x(b) - 4.5},${noteY(sellMarkerPrices[i]) - 4}h9l-4.5,8Z`} fill={RED} />
        ))}

        {/* signal notes */}
        <Badge px={x(6.9)} py={noteY(4794)} w={23} h={20} text="S+" fill={RED} size={9} />
        <Badge px={x(131.9)} py={noteY(4657.7)} w={41} h={15.5} text="SELL REV" fill={RED} size={8} />
        <Badge px={x(166.9)} py={noteY(4759.8)} w={27} h={15} text="Bear" fill={RED} size={8} />
        <Badge px={x(170.4)} py={noteY(4750.7)} w={18} h={19} text="S" fill={RED} size={9} />
        <Badge px={x(170.4)} py={noteY(4734)} w={18} h={16} text="▼" fill={RED} size={8} />
        <Badge px={x(120)} py={noteY(4495.7)} w={25} h={18} text="B+" fill="#1e9a84" up size={10} tip={3} />
        <Badge px={x(165.9)} py={noteY(4646)} w={39} h={14} text="BUY REV" fill="#0f9a7e" color="#12544a" up size={7.5} weight={400} tip={4} />
        <Badge px={x(167)} py={noteY(4632.3)} w={30} h={20} text="BUY" fill="#0f9a7e" up size={10.5} tip={0} />

        <rect x={1490.6} y={385} width={56} height={20} rx={3} fill="#3a6df0" />
        <Label text="RSI: 51.40" px={1518} py={394} color="#fff" size={10} weight={600} />
        {targetNames.map((n, i) => (
          <TargetTag key={n} name={n} price={targetPrices[i]} color={targetColors[i]} />
        ))}

        <circle cx={1451} cy={1217} r={10} fill="none" stroke="#9c27b0" strokeWidth={1.4} />
        {newsBars.map((b, i) => (
          <NewsFlag key={b} bar={b} clipId={`news${i}`} />
        ))}
        <rect x={2075} y={36} width={2} height={2} fill="#131722" />
        <rect x={2075} y={1219} width={2} height={2} fill="#131722" />
        <Label text="@ 2026" px={2079} py={y(4325.38)} color={BLUE} size={10.5} anchor="end" />
      </g>

      {/* legend line */}
      <text x={18} y={46} fontSize={11.6} fill="#131722">
        Gold (XAUUSD) · 4h · Capital.com
        <tspan dx={8}>O</tspan>
        <tspan fill="#e0364a">4,714.08</tspan>
        <tspan dx={7}>H</tspan>
        <tspan fill="#e0364a">4,714.28</tspan>
        <tspan dx={7}>L</tspan>
        <tspan fill="#e0364a">4,686.99</tspan>
        <tspan dx={7}>C</tspan>
        <tspan fill="#e0364a">4,699.71</tspan>
        <tspan dx={7} fill="#e0364a">−14.45 (−0.31%)</tspan>
        <tspan dx={7}>Vol</tspan>
        <tspan fill="#e0364a">72.97K</tspan>
      </text>

      {/* price axis */}
      {priceTicks.map((t) => (
        <Label key={t} text={fmt(t)} px={2142} py={y(t) - 1.5} size={11.6} anchor="end" />
      ))}
      <rect x={2090} y={31} width={58} height={26} rx={3} fill="#fff" stroke="#e6e9f0" />
      <Label text="USD" px={2099} py={44} size={11} anchor="start" />
      <rect x={2087} y={327} width={60} height={17} fill="#555" />
      <Label text="4,734.72" px={2142} py={335.5} size={11.6} anchor="end" color="#fff" weight={600} />
      <rect x={2087} y={373} width={60} height={31} fill={RED} />
      <Label text="4,699.71" px={2142} py={381} size={11.6} anchor="end" color="#fff" weight={600} />
      <Label text="07:53" px={2095} py={395} size={11.6} anchor="start" color="#fde4e6" />
      <rect x={2087} y={y(4325.38) - 10} width={60} height={20} fill="#fff" />
      <Label text="4,325.38" px={2142} py={y(4325.38)} size={11.6} anchor="end" />

      {/* time axis */}
      {timeBars.map((b, i) => (
        <Label key={b} text={timeLabels[i]} px={x(b)} py={1244} size={11} weight={timeLabels[i] === "Apr" || timeLabels[i] === "May" ? 600 : 400} />
      ))}

      {/* footer logo */}
      <path d="M12,1281h15v15h-7v-8h-8Z" fill="#131722" />
      <circle cx={31.5} cy={1284.5} r={3.5} fill="#131722" />
      <path d="M33,1296l6,-15h6l-6,15Z" fill="#131722" />
      <text x={48} y={1296} fontSize={20.4} fontWeight={700} fill="#131722" letterSpacing={-0.4}>
        TradingView
      </text>
    </svg>
  );
}
